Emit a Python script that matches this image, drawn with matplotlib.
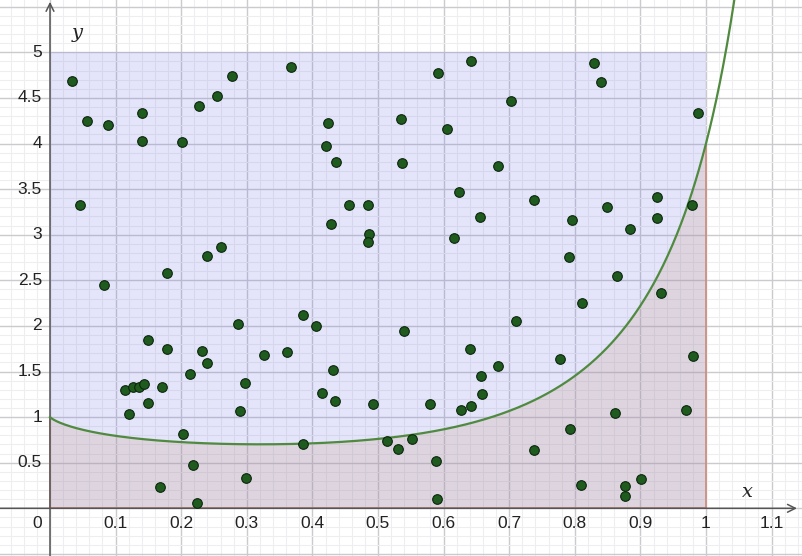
import numpy as np
import matplotlib
matplotlib.use("Agg")
import matplotlib.pyplot as plt

# ---- data ----
pts_x = [0.033, 0.057, 0.088, 0.140, 0.140, 0.201, 0.227, 0.255, 0.278, 0.046,
         0.260, 0.240, 0.178, 0.367, 0.592, 0.642, 0.424, 0.535, 0.605, 0.420,
         0.436, 0.537, 0.623, 0.456, 0.485, 0.429, 0.655, 0.486, 0.484, 0.616,
         0.829, 0.840, 0.703, 0.988, 0.683, 0.738, 0.796, 0.849, 0.925, 0.926,
         0.979, 0.884, 0.791, 0.865, 0.083, 0.287, 0.149, 0.179, 0.231, 0.326,
         0.239, 0.213, 0.115, 0.126, 0.136, 0.143, 0.170, 0.297, 0.150, 0.120,
         0.290, 0.203, 0.218, 0.299, 0.167, 0.224, 0.385, 0.406, 0.539, 0.361,
         0.641, 0.432, 0.657, 0.414, 0.435, 0.493, 0.580, 0.658, 0.627, 0.642,
         0.385, 0.513, 0.552, 0.530, 0.588, 0.590, 0.931, 0.811, 0.711, 0.777,
         0.683, 0.980, 0.861, 0.970, 0.793, 0.738, 0.810, 0.876, 0.876, 0.901]
pts_y = [4.69, 4.25, 4.20, 4.33, 4.03, 4.02, 4.41, 4.52, 4.74, 3.33,
         2.87, 2.77, 2.58, 4.84, 4.77, 4.90, 4.22, 4.27, 4.16, 3.97,
         3.80, 3.79, 3.47, 3.33, 3.33, 3.12, 3.19, 3.01, 2.92, 2.96,
         4.88, 4.67, 4.47, 4.33, 3.75, 3.38, 3.16, 3.30, 3.41, 3.18,
         3.33, 3.06, 2.76, 2.55, 2.45, 2.02, 1.85, 1.75, 1.72, 1.68,
         1.59, 1.47, 1.30, 1.33, 1.33, 1.36, 1.33, 1.37, 1.15, 1.03,
         1.07, 0.82, 0.47, 0.33, 0.23, 0.06, 2.12, 2.00, 1.94, 1.71,
         1.75, 1.52, 1.45, 1.26, 1.18, 1.14, 1.14, 1.25, 1.08, 1.12,
         0.70, 0.74, 0.76, 0.65, 0.52, 0.10, 2.36, 2.25, 2.05, 1.64,
         1.56, 1.67, 1.04, 1.08, 0.87, 0.64, 0.26, 0.24, 0.14, 0.32]

x_ticks = [0.1, 0.2, 0.3, 0.4, 0.5, 0.6, 0.7, 0.8, 0.9, 1.0, 1.1]
x_tick_labels = ["0.1", "0.2", "0.3", "0.4", "0.5", "0.6", "0.7", "0.8", "0.9", "1", "1.1"]
y_ticks = [0.5, 1.0, 1.5, 2.0, 2.5, 3.0, 3.5, 4.0, 4.5, 5.0]
y_tick_labels = ["0.5", "1", "1.5", "2", "2.5", "3", "3.5", "4", "4.5", "5"]

rect_x = [0, 1]
rect_y = [0, 5]


def f(x):
    return np.power(x, x) + 0.6 * x**4 / (1.2 - x)


# ---- figure ----
W, H = 803, 556
fig = plt.figure(figsize=(W / 100, H / 100), dpi=100)
ax = fig.add_axes([0, 0, 1, 1])
xmin, xmax = -50 / 656, (W - 50) / 656
ymin, ymax = (508.3 - H) / 91.2, 508.3 / 91.2
ax.set_xlim(xmin, xmax)
ax.set_ylim(ymin, ymax)
for s in ax.spines.values():
    s.set_visible(False)

# grid
ax.set_xticks(np.arange(-0.0, 1.15, 0.1))
ax.set_yticks(np.arange(-0.5, 5.6, 0.5))
ax.set_xticks(np.arange(-0.06, 1.15, 0.02), minor=True)
ax.set_yticks(np.arange(-0.5, 5.6, 0.1), minor=True)
ax.tick_params(which="both", length=0, labelbottom=False, labelleft=False)
ax.grid(which="major", color="#cbcbcf", linewidth=1.0)
ax.grid(which="minor", color="#eeeef0", linewidth=0.8)
ax.set_axisbelow(True)

# blue rectangle (translucent, above the grid)
ax.fill_between(rect_x, rect_y[0], rect_y[1], color=(100 / 255, 100 / 255, 230 / 255),
                alpha=0.17, zorder=0.7, linewidth=0)

# area under curve
xs = np.linspace(1e-6, 1.0, 400)
ax.fill_between(xs, 0, f(xs), color=(198 / 255, 158 / 255, 130 / 255), alpha=0.22,
                zorder=0.8, linewidth=0)
ax.plot([0, 0], [0, f(1e-9)], color="#cd8c78", lw=1.2, zorder=1)
ax.plot([0, 1], [0, 0], color="#cd8c78", lw=1.2, zorder=1)
ax.plot([1, 1], [0, f(1.0)], color="#cd8c78", lw=1.2, zorder=1)

# function curve
xc = np.linspace(1e-6, 1.06, 600)
ax.plot(xc, f(xc), color="#4f8a3f", lw=1.6, zorder=2)

# axes with arrows
ax.annotate("", xy=((797 - 50) / 656, 0), xytext=(xmin, 0),
            arrowprops=dict(arrowstyle="->", color="#555555", lw=1.1,
                            mutation_scale=14, shrinkA=0, shrinkB=0), zorder=1.5)
ax.annotate("", xy=(0, ymax - 0.02), xytext=(0, ymin),
            arrowprops=dict(arrowstyle="->", color="#555555", lw=1.1,
                            mutation_scale=14, shrinkA=0, shrinkB=0), zorder=1.5)

# points
ax.scatter(pts_x, pts_y, s=48, color="#1f5a1f", edgecolors="#0c260c",
           linewidths=0.8, zorder=3)

# tick labels
lab_font = dict(family="Liberation Sans", fontsize=12.5, color="#222222")
ylab_x = -8 / 656
xlab_y = (508.3 - 523) / 91.2
for v, t in zip(x_ticks, x_tick_labels):
    ax.text(v, xlab_y, t, ha="center", va="center", **lab_font)
ax.text(-13 / 656, xlab_y, "0", ha="center", va="center", **lab_font)
for v, t in zip(y_ticks, y_tick_labels):
    ax.text(ylab_x, v, t, ha="right", va="center", **lab_font)

# axis names
ax.text((747 - 50) / 656, (508.3 - 492) / 91.2, "x", ha="center", va="center",
        family="DejaVu Serif", style="italic", fontsize=14, color="#222222")
ax.text((77 - 50) / 656, (508.3 - 33) / 91.2, "y", ha="center", va="center",
        family="DejaVu Serif", style="italic", fontsize=14, color="#222222")

fig.savefig("out.png", dpi=100)
